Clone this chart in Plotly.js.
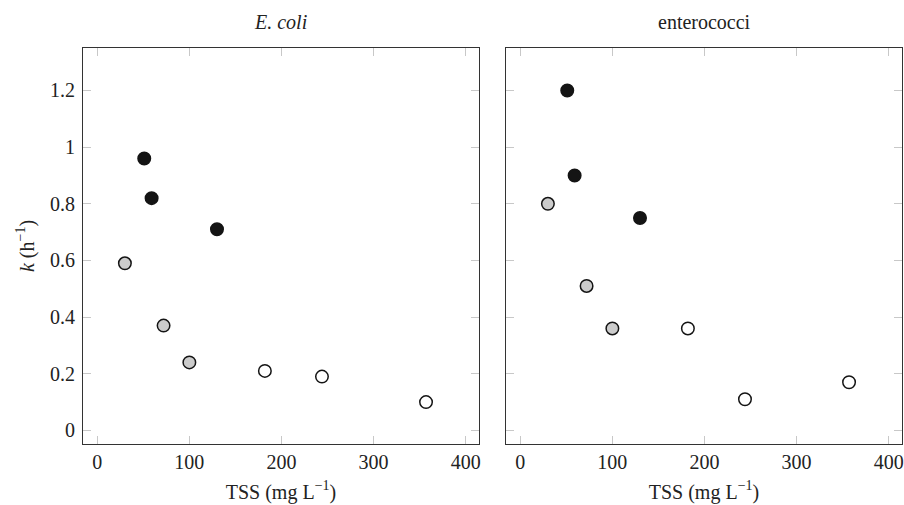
<!DOCTYPE html>
<html>
<head>
<meta charset="utf-8">
<script src="https://cdn.plot.ly/plotly-3.0.1.min.js"></script>
<style>html,body{margin:0;padding:0;background:#fff;}#chart{width:904px;height:505px;}</style>
</head>
<body>
<div id="chart"></div>
<script>
// TSS (mg/L) per group
const tssHigh = [51, 59, 130];
const tssMid = [30, 72, 100];
const tssLow = [182, 244, 357];
// E. coli k (1/h)
const ecoliHigh = [0.96, 0.82, 0.71];
const ecoliMid = [0.59, 0.37, 0.24];
const ecoliLow = [0.21, 0.19, 0.10];
// enterococci k (1/h)
const enteroHigh = [1.20, 0.90, 0.75];
const enteroMid = [0.80, 0.51, 0.36];
const enteroLow = [0.36, 0.11, 0.17];

const panelTitles = ["<i>E. coli</i>", "enterococci"];
const xTitle = "TSS (mg L<sup>−1</sup>)";
const yTitle = "<i>k</i> (h<sup>−1</sup>)";

const FONT = "Liberation Serif";
const FS = 20;
const groups = [
  {x: tssHigh, fill: "#141414"},
  {x: tssMid, fill: "#cccccc"},
  {x: tssLow, fill: "#ffffff"}
];
const panels = [[ecoliHigh, ecoliMid, ecoliLow], [enteroHigh, enteroMid, enteroLow]];

const traces = [];
panels.forEach((p, pi) => {
  p.forEach((ys, gi) => {
    traces.push({
      type: "scatter", mode: "markers",
      x: groups[gi].x, y: ys,
      xaxis: pi === 0 ? "x" : "x2", yaxis: pi === 0 ? "y" : "y2",
      marker: {size: 12.5, color: groups[gi].fill, line: {color: "#141414", width: 1.5}},
      showlegend: false, hoverinfo: "x+y"
    });
  });
});

function xax(domain) {
  return {
    domain: domain, range: [-15.5, 414.5], tickvals: [0, 100, 200, 300, 400],
    ticks: "inside", ticklen: 8, tickcolor: "#c8c8c8", tickwidth: 1,
    showline: true, linecolor: "#333", linewidth: 1, mirror: "ticks",
    showgrid: false, zeroline: false,
    tickfont: {family: FONT, size: FS, color: "#222"},
    title: {text: xTitle, font: {family: FONT, size: FS, color: "#222"}, standoff: 12}
  };
}
function yax(anchor, labels) {
  return {
    anchor: anchor, range: [-0.048, 1.35], tickvals: [0, 0.2, 0.4, 0.6, 0.8, 1, 1.2],
    ticktext: ["0", "0.2", "0.4", "0.6", "0.8", "1", "1.2"],
    showticklabels: labels, ticklabelstandoff: 3,
    ticks: "inside", ticklen: 8, tickcolor: "#c8c8c8", tickwidth: 1,
    showline: true, linecolor: "#333", linewidth: 1, mirror: "ticks",
    showgrid: false, zeroline: false,
    tickfont: {family: FONT, size: FS, color: "#222"}
  };
}

const layout = {
  width: 904, height: 505,
  margin: {l: 83, r: 2, t: 48, b: 61},
  paper_bgcolor: "#fff", plot_bgcolor: "#fff",
  xaxis: Object.assign(xax([0, 0.4835]), {anchor: "y"}),
  xaxis2: Object.assign(xax([0.5165, 1]), {anchor: "y2"}),
  yaxis: Object.assign(yax("x", true), {title: {text: yTitle, font: {family: FONT, size: FS, color: "#222"}, standoff: 10}}),
  yaxis2: yax("x2", false),
  annotations: [
    {text: panelTitles[0], xref: "x domain", yref: "paper", x: 0.5, y: 1, yshift: 26, yanchor: "middle", showarrow: false, font: {family: FONT, size: FS, color: "#222"}},
    {text: panelTitles[1], xref: "x2 domain", yref: "paper", x: 0.5, y: 1, yshift: 26, yanchor: "middle", showarrow: false, font: {family: FONT, size: FS, color: "#222"}}
  ]
};

Plotly.newPlot("chart", traces, layout, {displayModeBar: false, staticPlot: true});
</script>
</body>
</html>
